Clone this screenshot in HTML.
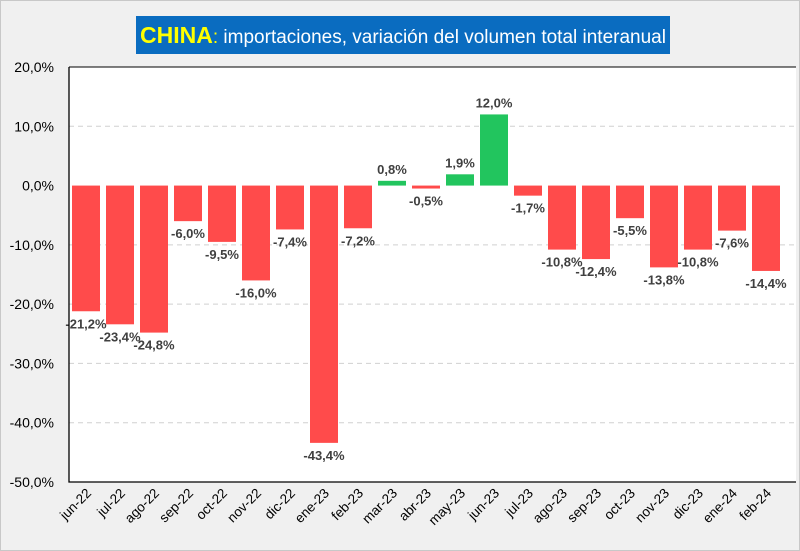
<!DOCTYPE html>
<html><head><meta charset="utf-8"><style>
body{margin:0;background:#f0f0f0;}
svg{display:block;font-family:"Liberation Sans",Calibri,sans-serif;}
</style></head><body>
<svg id="chart" width="800" height="551">
<rect x="0.5" y="0.5" width="799" height="550" fill="#f0f0f0" stroke="#c8c8c8"/>
<rect x="136" y="16" width="534" height="38" fill="#0a6cc0"/>
<text x="403" y="43" text-anchor="middle" font-size="19" fill="#fff"><tspan fill="#ffff00" font-weight="bold" font-size="23">CHINA</tspan><tspan fill="#ffff00">:</tspan> importaciones, variación del volumen total interanual</text>
<rect x="69" y="67" width="727" height="415" fill="#fff"/>
<g id="grid"></g><g id="bars"></g><g id="labels"></g><g id="axes"></g>
</svg>
<script>
const categories=["jun-22","jul-22","ago-22","sep-22","oct-22","nov-22","dic-22","ene-23","feb-23","mar-23","abr-23","may-23","jun-23","jul-23","ago-23","sep-23","oct-23","nov-23","dic-23","ene-24","feb-24"];
const values=[-21.2,-23.4,-24.8,-6.0,-9.5,-16.0,-7.4,-43.4,-7.2,0.8,-0.5,1.9,12.0,-1.7,-10.8,-12.4,-5.5,-13.8,-10.8,-7.6,-14.4];
const yTicks=[20,10,0,-10,-20,-30,-40,-50];
const NS="http://www.w3.org/2000/svg";
const L=69,T=67,B=482,R=796,band=34,bw=28;
const y=v=>T+(20-v)*(B-T)/70;
const x=i=>L+band*i+band/2;
function mk(t,a,p){const e=document.createElementNS(NS,t);for(const k in a)e.setAttribute(k,a[k]);document.getElementById(p).appendChild(e);return e;}
yTicks.forEach(t=>{
  if(t!==20&&t!==-50&&t!==0){const g=mk('line',{x1:L,x2:R,y1:y(t),y2:y(t),stroke:'#d0d0d0','stroke-dasharray':'5,4'},'grid');
  
  }
  const lb=mk('text',{x:54,y:y(t)+5,'text-anchor':'end','font-size':14,fill:'#000'},'axes');lb.textContent=t.toFixed(1).replace('.',',')+'%';
  
  
});
values.forEach((v,i)=>{
  const r=mk('rect',{x:x(i)-bw/2,y:Math.min(y(v),y(0)),width:bw,height:Math.abs(y(v)-y(0)),fill:v>=0?'#22c55e':'#ff4b4b'},'bars');
  
  
  const ty=v>=0?y(v)-7:y(v)+17;
  const t=mk('text',{x:x(i),y:ty,'text-anchor':'middle','font-size':13,'font-weight':'bold',fill:'#404040'},'labels');
  t.textContent=v.toFixed(1).replace('.',',')+'%';
  
  
  const c=mk('text',{x:x(i)+6,y:B+12,'text-anchor':'end','font-size':13.5,fill:'#000',transform:`rotate(-45 ${x(i)+6} ${B+12})`},'axes');
  c.textContent=categories[i];
  
  
});
const ax=mk('path',{d:`M${L} ${T}V${B}H${R}`,fill:'none',stroke:'#000','stroke-width':1.3},'axes');


const tp=mk('line',{x1:L,x2:R,y1:T,y2:T,stroke:'#000','stroke-width':1},'axes');


</script>
</body></html>
